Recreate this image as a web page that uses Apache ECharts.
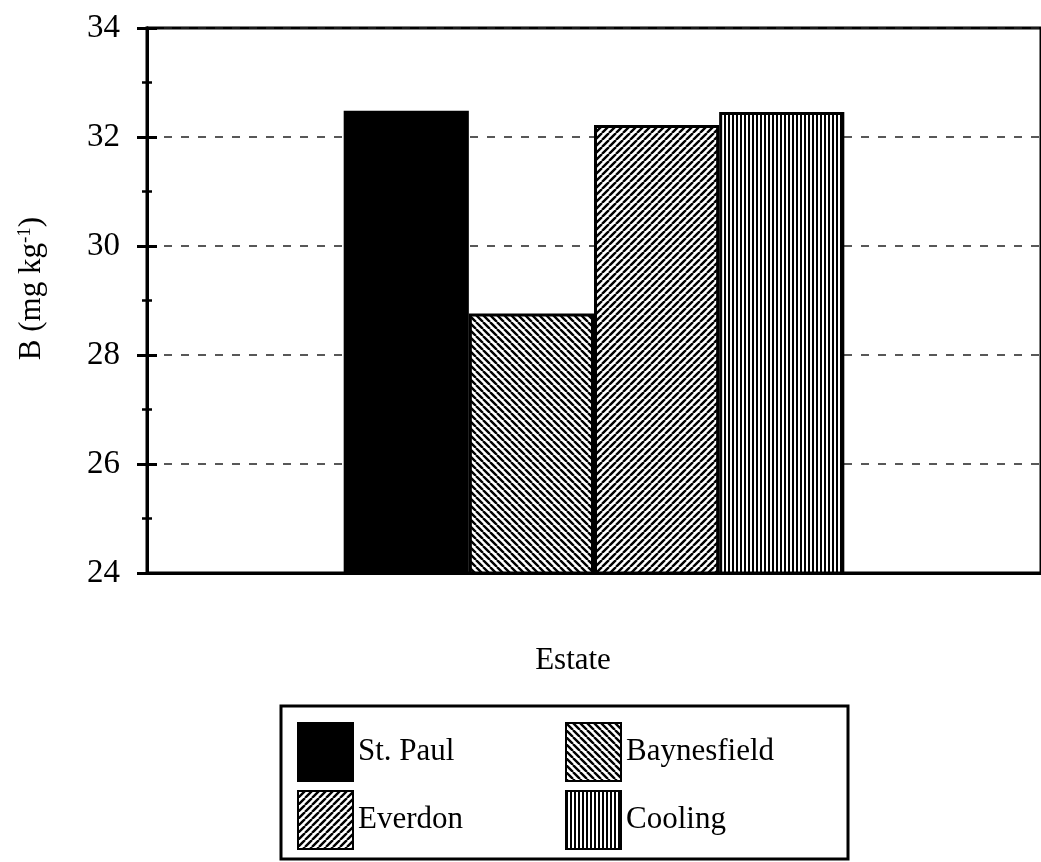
<!DOCTYPE html>
<html>
<head>
<meta charset="utf-8">
<script src="https://cdn.jsdelivr.net/npm/echarts@6/dist/echarts.min.js"></script>
<style>
  html, body { margin: 0; padding: 0; background: #fff; }
  #main { width: 1041px; height: 862px; }
</style>
</head>
<body>
<div id="main"></div>
<script>
// data
var categories = [''];
var estates = ['St. Paul', 'Baynesfield', 'Everdon', 'Cooling'];
var boron = [32.48, 28.76, 32.22, 32.46];
var yMin = 24, yMax = 34, yStep = 2;

var FONT = '"Liberation Serif", "Times New Roman", serif';

// hatch fills
function hatch(kind) {
    var p = kind === 'vert' ? 4 : 7;
    var c = document.createElement('canvas');
    c.width = p; c.height = p;
    var ctx = c.getContext('2d');
    ctx.fillStyle = '#fff';
    ctx.fillRect(0, 0, p, p);
    ctx.strokeStyle = '#000';
    ctx.beginPath();
    if (kind === 'vert') {
        ctx.lineWidth = 2;
        ctx.moveTo(1, 0); ctx.lineTo(1, p);
    } else {
        ctx.lineWidth = 2.4;
        for (var k = -1; k <= 1; k++) {
            if (kind === 'back') {
                ctx.moveTo(k * p, 0); ctx.lineTo(k * p + p, p);
            } else {
                ctx.moveTo(k * p, p); ctx.lineTo(k * p + p, 0);
            }
        }
    }
    ctx.stroke();
    return { image: c, repeat: 'repeat' };
}

var fills = ['#000', hatch('back'), hatch('fwd'), hatch('vert')];

var series = estates.map(function (name, i) {
    return {
        name: name,
        type: 'bar',
        data: [boron[i]],
        barGap: '0%',
        barCategoryGap: '44%',
        itemStyle: {
            color: fills[i],
            borderColor: '#000',
            borderWidth: 3
        }
    };
});

var gridBox = { left: 147, top: 28, right: -4, bottom: 289 };
var tickStyle = { color: '#000', width: 3 };
var minorStyle = { color: '#000', width: 2.5 };

var myChart = echarts.init(document.getElementById('main'), null, { renderer: 'canvas' });
var option = {
    backgroundColor: '#fff',
    animation: false,
    textStyle: { fontFamily: FONT, color: '#000' },
    grid: [
        Object.assign({ show: true, borderColor: '#000', borderWidth: 3 }, gridBox),
        Object.assign({ show: false }, gridBox)
    ],
    xAxis: [{
        type: 'category',
        gridIndex: 0,
        data: categories,
        name: 'Estate',
        nameLocation: 'middle',
        nameGap: 72,
        nameTextStyle: { fontFamily: FONT, fontSize: 31, color: '#000', padding: [0, 42, 0, 0] },
        axisLine: { lineStyle: { color: '#000', width: 3 } },
        axisTick: { show: false },
        axisLabel: { show: false }
    }, {
        type: 'category',
        gridIndex: 1,
        data: categories,
        show: false
    }],
    yAxis: [{
        type: 'value',
        gridIndex: 0,
        min: yMin,
        max: yMax,
        interval: yStep,
        name: 'B (mg kg{sup|-1})',
        nameLocation: 'middle',
        nameRotate: 90,
        nameGap: 100,
        nameTextStyle: {
            fontFamily: FONT, fontSize: 31, color: '#000',
            padding: [0, 0, 0, 24],
            rich: { sup: { fontFamily: FONT, fontSize: 19, verticalAlign: 'top', padding: [0, 0, 12, 0] } }
        },
        axisLine: { show: true, lineStyle: { color: '#000', width: 3 } },
        axisTick: { show: true, length: 10, lineStyle: tickStyle },
        minorTick: { show: true, splitNumber: 2, length: 5, lineStyle: minorStyle },
        axisLabel: { fontFamily: FONT, fontSize: 33, color: '#000', margin: 27 },
        splitLine: { show: true, lineStyle: { color: '#222', width: 1.5, type: [8, 9] } }
    }, {
        type: 'value',
        gridIndex: 1,
        min: yMin,
        max: yMax,
        interval: yStep,
        position: 'left',
        axisLine: { show: true, lineStyle: { color: '#000', width: 3 } },
        axisTick: { show: true, inside: true, length: 10, lineStyle: tickStyle },
        minorTick: { show: true, splitNumber: 2, length: 5, lineStyle: minorStyle },
        axisLabel: { show: false },
        splitLine: { show: false }
    }],
    legend: [{
        data: ['St. Paul', 'Everdon'],
        orient: 'vertical',
        left: 297,
        top: 722,
        padding: 0,
        icon: 'rect',
        itemWidth: 55,
        itemHeight: 58,
        itemGap: 8,
        textStyle: { fontFamily: FONT, fontSize: 31, color: '#000' }
    }, {
        data: ['Baynesfield', 'Cooling'],
        orient: 'vertical',
        left: 565,
        top: 722,
        padding: 0,
        icon: 'rect',
        itemWidth: 55,
        itemHeight: 58,
        itemGap: 8,
        textStyle: { fontFamily: FONT, fontSize: 31, color: '#000' }
    }],
    graphic: [{
        type: 'rect',
        shape: { x: 281, y: 706, width: 567, height: 153 },
        style: { fill: 'none', stroke: '#000', lineWidth: 3 },
        silent: true
    }],
    series: series
};
myChart.setOption(option);
window.addEventListener('resize', function () {
    myChart.resize();
});
</script>
</body>
</html>
